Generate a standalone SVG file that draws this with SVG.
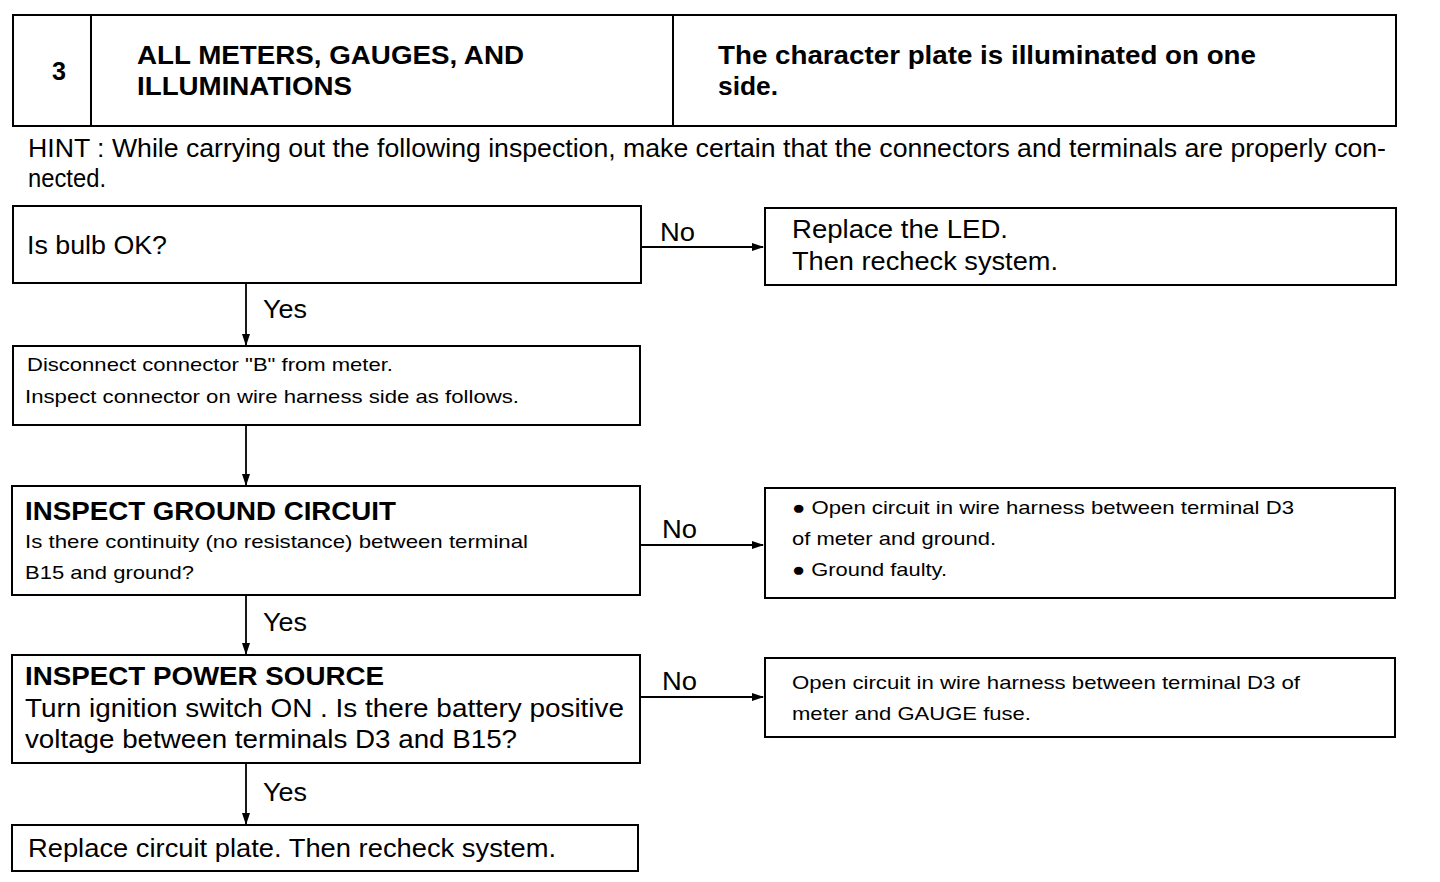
<svg xmlns="http://www.w3.org/2000/svg" width="1440" height="882" viewBox="0 0 1440 882">
<style>
.box{fill:#fff;stroke:#000;stroke-width:2}
.t{font-family:"Liberation Sans",Arial,sans-serif;fill:#000}
.b{font-weight:bold}
.l{font-size:25px}
.s{font-size:19px}
.c{stroke:#000;stroke-width:1.8;fill:none}
</style>
<defs>
<marker id="ah" markerWidth="12" markerHeight="8" refX="11" refY="4" orient="auto" markerUnits="userSpaceOnUse">
<path d="M0,0 L12,4 L0,8 Z" fill="#000"/>
</marker>
</defs>
<rect width="1440" height="882" fill="#fff"/>
<g id="header">
<rect class="box" x="13" y="15" width="1383" height="111"/>
<line x1="91" y1="15" x2="91" y2="126" stroke="#000" stroke-width="2"/>
<line x1="673" y1="15" x2="673" y2="126" stroke="#000" stroke-width="2"/>
<text class="t b l" x="52" y="80" textLength="14" lengthAdjust="spacingAndGlyphs">3</text>
<text class="t b l" x="137" y="64" textLength="387" lengthAdjust="spacingAndGlyphs">ALL METERS, GAUGES, AND</text>
<text class="t b l" x="137" y="95" textLength="215" lengthAdjust="spacingAndGlyphs">ILLUMINATIONS</text>
<text class="t b l" x="718" y="64" textLength="538" lengthAdjust="spacingAndGlyphs">The character plate is illuminated on one</text>
<text class="t b l" x="718" y="95" textLength="60" lengthAdjust="spacingAndGlyphs">side.</text>
</g>
<g id="hint">
<text class="t" font-size="26" x="28" y="157" textLength="1358" lengthAdjust="spacingAndGlyphs">HINT : While carrying out the following inspection, make certain that the connectors and terminals are properly con-</text>
<text class="t" font-size="26" x="28" y="187" textLength="78" lengthAdjust="spacingAndGlyphs">nected.</text>
</g>
<g id="connectors">
<line class="c" x1="641" y1="247" x2="763" y2="247" marker-end="url(#ah)"/>
<line class="c" x1="246" y1="283" x2="246" y2="345" marker-end="url(#ah)"/>
<line class="c" x1="246" y1="425" x2="246" y2="485" marker-end="url(#ah)"/>
<line class="c" x1="640" y1="545" x2="763" y2="545" marker-end="url(#ah)"/>
<line class="c" x1="246" y1="595" x2="246" y2="654" marker-end="url(#ah)"/>
<line class="c" x1="640" y1="697" x2="763" y2="697" marker-end="url(#ah)"/>
<line class="c" x1="246" y1="763" x2="246" y2="824" marker-end="url(#ah)"/>
<text class="t l" x="660" y="241" textLength="35" lengthAdjust="spacingAndGlyphs">No</text>
<text class="t l" x="263" y="318" textLength="44" lengthAdjust="spacingAndGlyphs">Yes</text>
<text class="t l" x="662" y="538" textLength="35" lengthAdjust="spacingAndGlyphs">No</text>
<text class="t l" x="263" y="631" textLength="44" lengthAdjust="spacingAndGlyphs">Yes</text>
<text class="t l" x="662" y="690" textLength="35" lengthAdjust="spacingAndGlyphs">No</text>
<text class="t l" x="263" y="801" textLength="44" lengthAdjust="spacingAndGlyphs">Yes</text>
</g>
<g id="n1">
<rect class="box" x="13" y="206" width="628" height="77"/>
<text class="t l" x="27" y="254" textLength="140" lengthAdjust="spacingAndGlyphs">Is bulb OK?</text>
</g>
<g id="n1no">
<rect class="box" x="765" y="208" width="631" height="77"/>
<text class="t l" x="792" y="238" textLength="216" lengthAdjust="spacingAndGlyphs">Replace the LED.</text>
<text class="t l" x="792" y="270" textLength="266" lengthAdjust="spacingAndGlyphs">Then recheck system.</text>
</g>
<g id="n2">
<rect class="box" x="13" y="346" width="627" height="79"/>
<text class="t s" x="27" y="371" textLength="366" lengthAdjust="spacingAndGlyphs">Disconnect connector "B" from meter.</text>
<text class="t s" x="25" y="403" textLength="494" lengthAdjust="spacingAndGlyphs">Inspect connector on wire harness side as follows.</text>
</g>
<g id="n3">
<rect class="box" x="12" y="486" width="628" height="109"/>
<text class="t b l" x="25" y="520" textLength="371" lengthAdjust="spacingAndGlyphs">INSPECT GROUND CIRCUIT</text>
<text class="t s" x="25" y="548" textLength="503" lengthAdjust="spacingAndGlyphs">Is there continuity (no resistance) between terminal</text>
<text class="t s" x="25" y="579" textLength="169" lengthAdjust="spacingAndGlyphs">B15 and ground?</text>
</g>
<g id="n3no">
<rect class="box" x="765" y="488" width="630" height="110"/>
<text class="t s" x="792" y="514" textLength="502" lengthAdjust="spacingAndGlyphs">● Open circuit in wire harness between terminal D3</text>
<text class="t s" x="792" y="545" textLength="204" lengthAdjust="spacingAndGlyphs">of meter and ground.</text>
<text class="t s" x="792" y="576" textLength="155" lengthAdjust="spacingAndGlyphs">● Ground faulty.</text>
</g>
<g id="n4">
<rect class="box" x="12" y="655" width="628" height="108"/>
<text class="t b l" x="25" y="685" textLength="359" lengthAdjust="spacingAndGlyphs">INSPECT POWER SOURCE</text>
<text class="t" font-size="26" x="25" y="717" textLength="599" lengthAdjust="spacingAndGlyphs">Turn ignition switch ON . Is there battery positive</text>
<text class="t" font-size="26" x="25" y="748" textLength="492" lengthAdjust="spacingAndGlyphs">voltage between terminals D3 and B15?</text>
</g>
<g id="n4no">
<rect class="box" x="765" y="658" width="630" height="79"/>
<text class="t s" x="792" y="689" textLength="508" lengthAdjust="spacingAndGlyphs">Open circuit in wire harness between terminal D3 of</text>
<text class="t s" x="792" y="720" textLength="239" lengthAdjust="spacingAndGlyphs">meter and GAUGE fuse.</text>
</g>
<g id="n5">
<rect class="box" x="12" y="825" width="626" height="46"/>
<text class="t l" x="28" y="857" textLength="528" lengthAdjust="spacingAndGlyphs">Replace circuit plate. Then recheck system.</text>
</g>
</svg>
